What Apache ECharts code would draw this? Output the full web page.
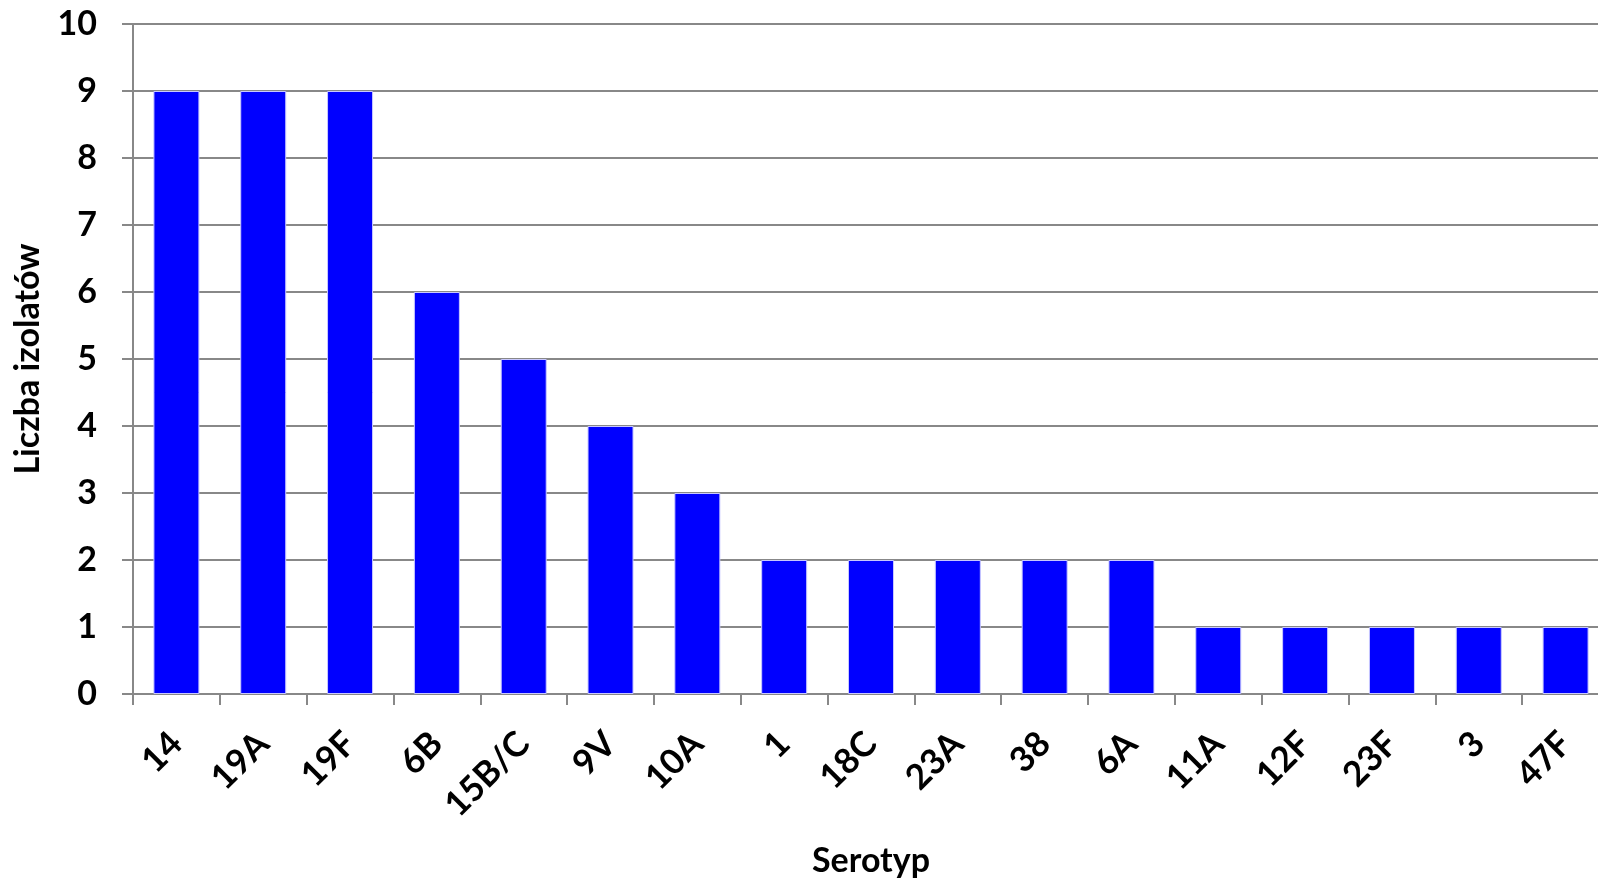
<!DOCTYPE html>
<html>
<head>
<meta charset="utf-8">
<script src="https://cdn.jsdelivr.net/npm/echarts@6/dist/echarts.min.js"></script>
<style>
html,body{margin:0;padding:0;background:#fff;}
#c{width:1598px;height:878px;}
</style>
</head>
<body>
<div id="c"></div>
<script>
const categories = ['14','19A','19F','6B','15B/C','9V','10A','1','18C','23A','38','6A','11A','12F','23F','3','47F'];
const counts = [9,9,9,6,5,4,3,2,2,2,2,2,1,1,1,1,1];
const yTicks = [0,1,2,3,4,5,6,7,8,9,10];

const FONT = 'Lato';
const chart = echarts.init(document.getElementById('c'), null, {renderer:'canvas'});
chart.setOption({
  animation:false,
  backgroundColor:'#fff',
  grid:{left:133, top:24, width:1476, height:670, containLabel:false, outerBoundsMode:'none'},
  xAxis:{
    type:'category',
    data:categories,
    name:'Serotyp',
    nameLocation:'middle',
    nameGap:150,
    nameTextStyle:{fontFamily:FONT,fontWeight:'bold',fontSize:34,color:'#000',verticalAlign:'top'},
    axisLine:{lineStyle:{color:'#888',width:2}},
    axisTick:{show:true,length:11,lineStyle:{color:'#888',width:2}},
    axisLabel:{rotate:45,interval:0,margin:44,fontFamily:FONT,fontWeight:'bold',fontSize:35,color:'#000'}
  },
  yAxis:{
    type:'value',
    min:yTicks[0], max:yTicks[yTicks.length-1], interval:1,
    name:'Liczba izolatów',
    nameLocation:'middle',
    nameRotate:90,
    nameGap:88,
    nameTextStyle:{fontFamily:FONT,fontWeight:'bold',fontSize:34,color:'#000'},
    axisLine:{show:true,lineStyle:{color:'#888',width:2}},
    axisTick:{show:true,length:11,lineStyle:{color:'#888',width:2}},
    axisLabel:{margin:36,fontFamily:FONT,fontWeight:'bold',fontSize:34,color:'#000'},
    splitLine:{show:true,lineStyle:{color:'#888',width:2}}
  },
  series:[{
    type:'bar',
    data:counts,
    barWidth:46,
    itemStyle:{color:'#0000ff',borderColor:'#c8c8ff',borderWidth:1}
  }]
});
</script>
</body>
</html>
